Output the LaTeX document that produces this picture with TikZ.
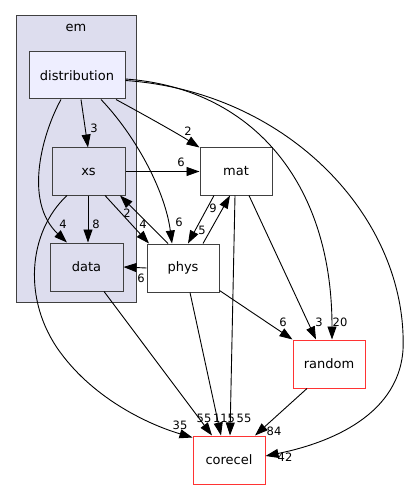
\documentclass[tikz,border=0pt]{standalone}
\usepackage{fontspec}
\setmainfont{DejaVu Sans}
\usetikzlibrary{arrows.meta}
\definecolor{clfill}{HTML}{DDDDEE}
\definecolor{distfill}{HTML}{EEEEFF}
\definecolor{bordergray}{HTML}{404040}
\definecolor{extred}{HTML}{FF3333}
\begin{document}
\begin{tikzpicture}[x=1pt,y=-1pt,
  font=\fontsize{13}{15}\selectfont,
  dirbox/.style={draw=bordergray,line width=1pt,minimum width=72pt,minimum height=47pt,inner sep=0pt},
  inbox/.style={dirbox,fill=clfill},
  outbox/.style={dirbox,fill=white},
  extbox/.style={draw=extred,line width=1pt,fill=white,minimum width=72pt,minimum height=48pt,inner sep=0pt},
  edge/.style={draw=black,line width=0.9pt,-{Triangle[length=13pt,width=9pt]}},
  lbl/.style={inner sep=0pt,font=\fontsize{11.5}{13}\selectfont}]
\useasboundingbox (0,0) rectangle (411,489);
% cluster
\path[draw=bordergray,line width=1pt,fill=clfill] (16,16) rectangle (136,302);
\node[inner sep=0pt] (emlabel) at (76,28) {em};
% nodes
\node[dirbox,fill=distfill,minimum width=96pt] (dist) at (77,75.5) {distribution};
\node[inbox,minimum width=73pt] (xs) at (88.5,171.5) {xs};
\node[inbox,minimum width=73pt,minimum height=48pt] (data) at (86.5,267) {data};
\node[outbox,minimum height=48pt] (phys) at (183,268) {phys};
\node[outbox] (mat) at (236,171.5) {mat};
\node[extbox] (random) at (329,364) {random};
\node[extbox] (corecel) at (229,460) {corecel};
% edges
\draw[edge] ([xshift=4pt]dist.south) -- ([xshift=-0.5pt]xs.north);
\node[lbl] (l1) at (94,128) {3};
\draw[edge] ([xshift=-16pt]dist.south) .. controls (44,130) and (22,200) .. ([xshift=-19.5pt]data.north);
\node[lbl] (l2) at (63,224) {4};
\draw[edge] ([xshift=24pt]dist.south) .. controls (135,135) and (165,190) .. ([xshift=-11pt]phys.north);
\node[lbl] (l3) at (179,222) {6};
\draw[edge] ([xshift=39pt]dist.south) .. controls (150,118) and (180,135) .. (mat.north west);
\node[lbl] (l4) at (188,131) {2};
\draw[edge] ([yshift=-3.5pt]dist.east) .. controls (250,88) and (332,180) .. ([xshift=3pt]random.north);
\node[lbl] (l5) at (340,322) {20};
\draw[edge] ([yshift=-5pt]dist.east) .. controls (290,92) and (408,220) .. (403,350) .. controls (398,420) and (320,445) .. ([yshift=4pt]corecel.east);
\node[lbl] (l6) at (285,457) {42};
\draw[edge] (xs.east) -- (mat.west);
\node[lbl] (l7) at (181,162) {6};
\draw[edge] ([xshift=-0.5pt]xs.south) -- ([xshift=1.5pt]data.north);
\node[lbl] (l8) at (96,224) {8};
\draw[edge] ([xshift=16.5pt]xs.south) -- ([xshift=-34pt]phys.north);
\node[lbl] (l9) at (143,224) {4};
\draw[edge] ([xshift=-15pt]phys.north) -- ([xshift=31.5pt]xs.south);
\node[lbl] (l10) at (127,213) {2};
\draw[edge] ([xshift=-21.5pt]xs.south) .. controls (28,232) and (22,300) .. (60,352) .. controls (95,400) and (150,425) .. ([yshift=-2pt]corecel.north west);
\node[lbl] (l11) at (180,425) {35};
\draw[edge] (phys.west) -- (data.east);
\node[lbl] (l12) at (141,278) {6};
\draw[edge] ([xshift=-22pt]mat.south) -- ([xshift=5pt]phys.north);
\node[lbl] (l13) at (202,230) {5};
\draw[edge] ([xshift=20pt]phys.north) -- ([xshift=-6pt]mat.south);
\node[lbl] (l14) at (213,208) {9};
\draw[edge] ([xshift=13pt]mat.south) -- ([xshift=-13pt]random.north);
\node[lbl] (l15) at (319,322) {3};
\draw[edge] ([xshift=-1pt]mat.south) -- ([xshift=1pt]corecel.north);
\node[lbl] (l16) at (244,418) {55};
\draw[edge] ([xshift=7pt]phys.south) -- ([xshift=-8pt]corecel.north);
\node[lbl] (l17) at (224,418) {115};
\draw[edge] ([xshift=17.5pt]data.south) -- ([xshift=-17pt]corecel.north);
\node[lbl] (l18) at (204,418) {55};
\draw[edge] ([yshift=2pt]phys.south east) -- (random.north west);
\node[lbl] (l19) at (283,322) {6};
\draw[edge] ([xshift=-22pt]random.south) -- ([xshift=26pt]corecel.north);
\node[lbl] (l20) at (274,431) {84};
\end{tikzpicture}
\end{document}
